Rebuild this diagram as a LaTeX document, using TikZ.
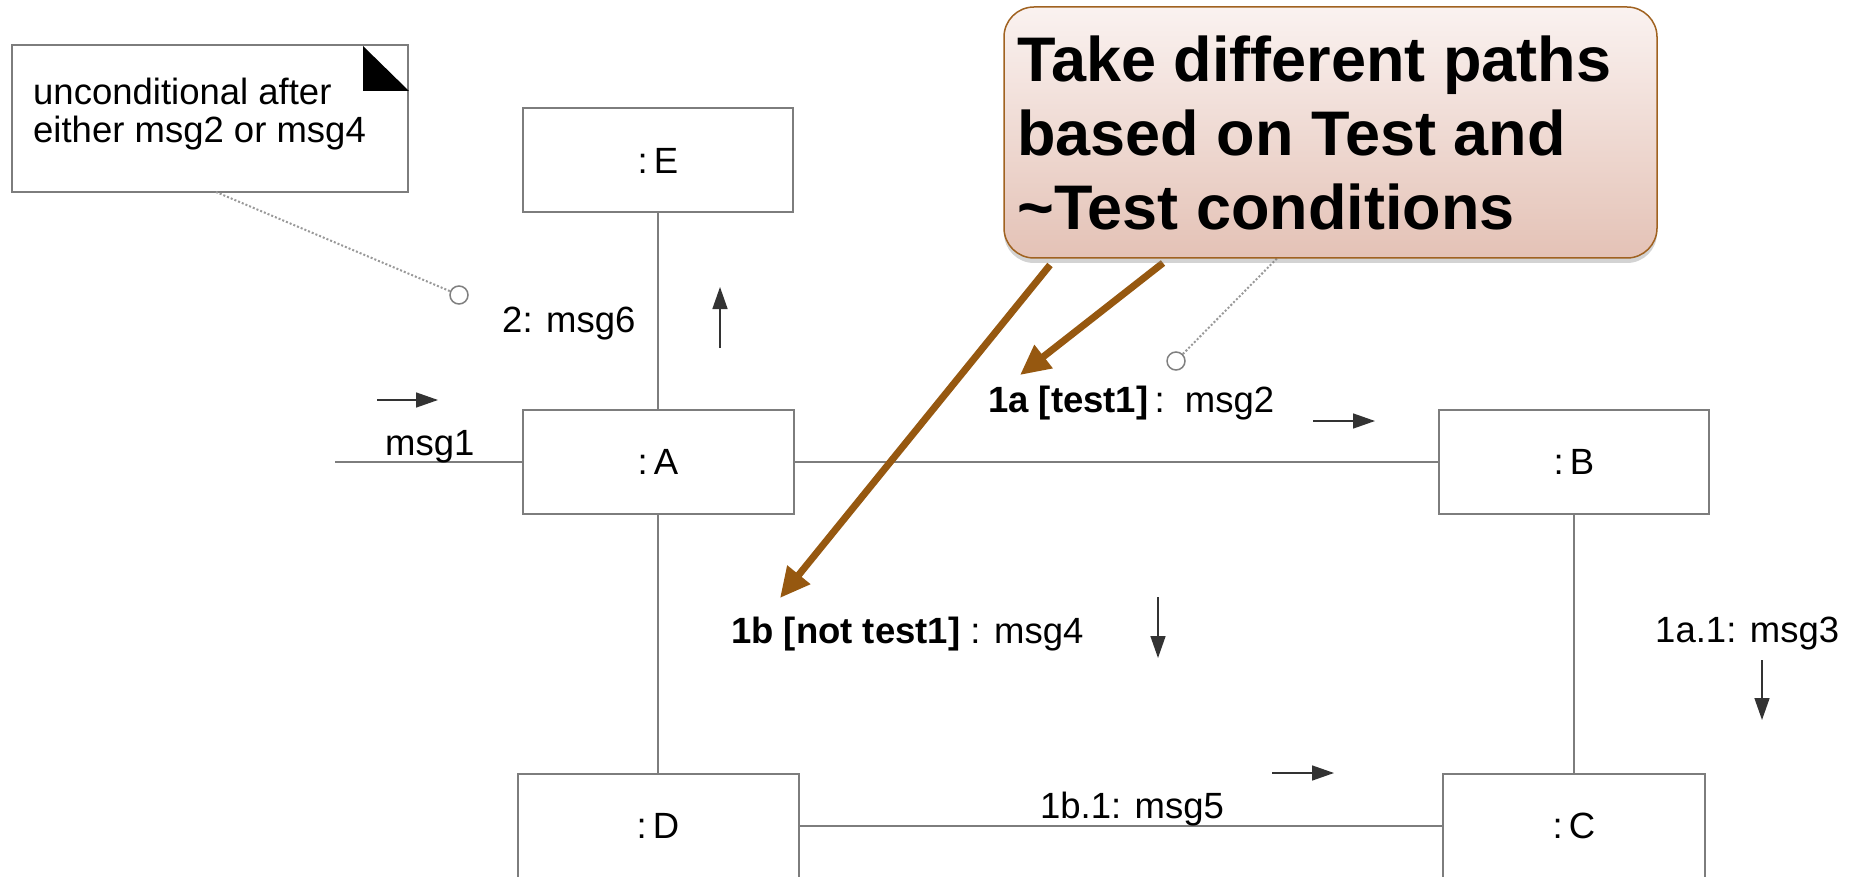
\documentclass[tikz,border=0pt]{standalone}
\usepackage{fontspec}
\setmainfont{Liberation Sans}
\usetikzlibrary{arrows.meta,shadows}

\definecolor{boxgray}{RGB}{125,125,125}
\definecolor{hintbrown}{RGB}{150,88,16}
\definecolor{calloutedge}{RGB}{160,98,32}
\definecolor{callouttop}{RGB}{250,242,240}
\definecolor{calloutbottom}{RGB}{228,194,182}

\tikzset{
  obj/.style={draw=boxgray, line width=2pt, fill=white, minimum height=104pt, inner sep=0pt},
  link/.style={draw=boxgray, line width=1.5pt},
  lbl/.style={anchor=base west, inner sep=0pt},
  msgarrow/.style={line width=1.5pt, draw=black!80, -{Triangle[length=22pt,width=15pt]}},
  pinline/.style={draw=gray!80, line width=2pt, dotted},
  pin/.style={circle, draw=gray, line width=1.5pt, fill=white, minimum size=18pt, inner sep=0pt},
  hint/.style={line width=7pt, draw=hintbrown, -{Triangle[length=30pt,width=28pt]}},
  callout/.style={draw=calloutedge, line width=1.5pt, rounded corners=30pt,
    top color=callouttop, bottom color=calloutbottom,
    minimum width=653pt, minimum height=251pt,
    drop shadow={shadow xshift=0pt, shadow yshift=-5pt, opacity=0.35}},
}

\begin{document}
\begin{tikzpicture}[x=1pt,y=1pt,yscale=-1,font=\fontsize{36.5}{44}\selectfont]
\useasboundingbox (0,0) rectangle (1854,877);
\clip (0,0) rectangle (1854,877);

% objects
\node (E) [obj, minimum width=270pt] at (658,160.5) {:\,E};
\node (A) [obj, minimum width=271pt] at (658,462) {:\,A};
\node (B) [obj, minimum width=270pt] at (1574,462) {:\,B};
\node (D) [obj, minimum width=281pt] at (658,826) {:\,D};
\node (C) [obj, minimum width=262pt] at (1574,826) {:\,C};

% links
\coordinate (entry) at (335,462);
\draw [link] (entry) -- (A.west);
\draw [link] (A) -- (B);
\draw [link] (A) -- (E);
\draw [link] (A) -- (D);
\draw [link] (B) -- (C);
\draw [link] (D) -- (C);

% note with folded corner
\node (note) [draw=boxgray, line width=2pt, fill=white, minimum width=396pt, minimum height=147pt] at (210,118.5) {};
\fill (note.north east) ++(-46,2) -- ++(0,45) -- ++(46,0) -- cycle;
% (base of a multi-line node is its last line)
\node (notetext) [lbl, align=left, font=\fontsize{36.5}{38}\selectfont] at (33,143) {unconditional after\\either msg2 or msg4};

% message labels
\node (m1) [lbl] at (385,455) {msg1};
\node (m6) [lbl] at (502,332) {2: msg6};
\node (m2) [lbl] at (988,412) {\textbf{1a [test1]}\,:\ \ msg2};
\node (m4) [lbl] at (731,643) {\textbf{1b [not test1]} : msg4};
\node (m3) [lbl] at (1655,642) {1a.1: msg3};
\node (m5) [anchor=base, inner sep=0pt] at (1132,818) {1b.1: msg5};

% message directions
\draw [msgarrow] (377,400) -- (438,400);
\draw [msgarrow] (720,348) -- (720,287);
\draw [msgarrow] (1313,421) -- (1375,421);
\draw [msgarrow] (1158,597) -- (1158,658);
\draw [msgarrow] (1762,660) -- (1762,720);
\draw [msgarrow] (1272,773) -- (1334,773);

% note anchors
\node (pinE) [pin] at (459,295) {};
\draw [pinline] (216,192) -- (pinE);
\node (pinB) [pin] at (1176,361) {};
\draw [pinline] (pinB) -- (1300,235);

% callout and its arrows
\coordinate (fromA) at (1163,263);
\coordinate (fromB) at (1050,265);
\coordinate (tipA) at (1020,375);
\coordinate (tipB) at (780,598);
\draw [hint] (fromA) -- (tipA);
\draw [hint] (fromB) -- (tipB);

\node (callout) [callout] at (1330.5,132.5) {};
\node (callouttext) [lbl, align=left, font=\fontsize{63}{74}\selectfont\bfseries] at (1017,230)
  {Take different paths\\based on Test and\\\textasciitilde Test conditions};

\end{tikzpicture}
\end{document}
